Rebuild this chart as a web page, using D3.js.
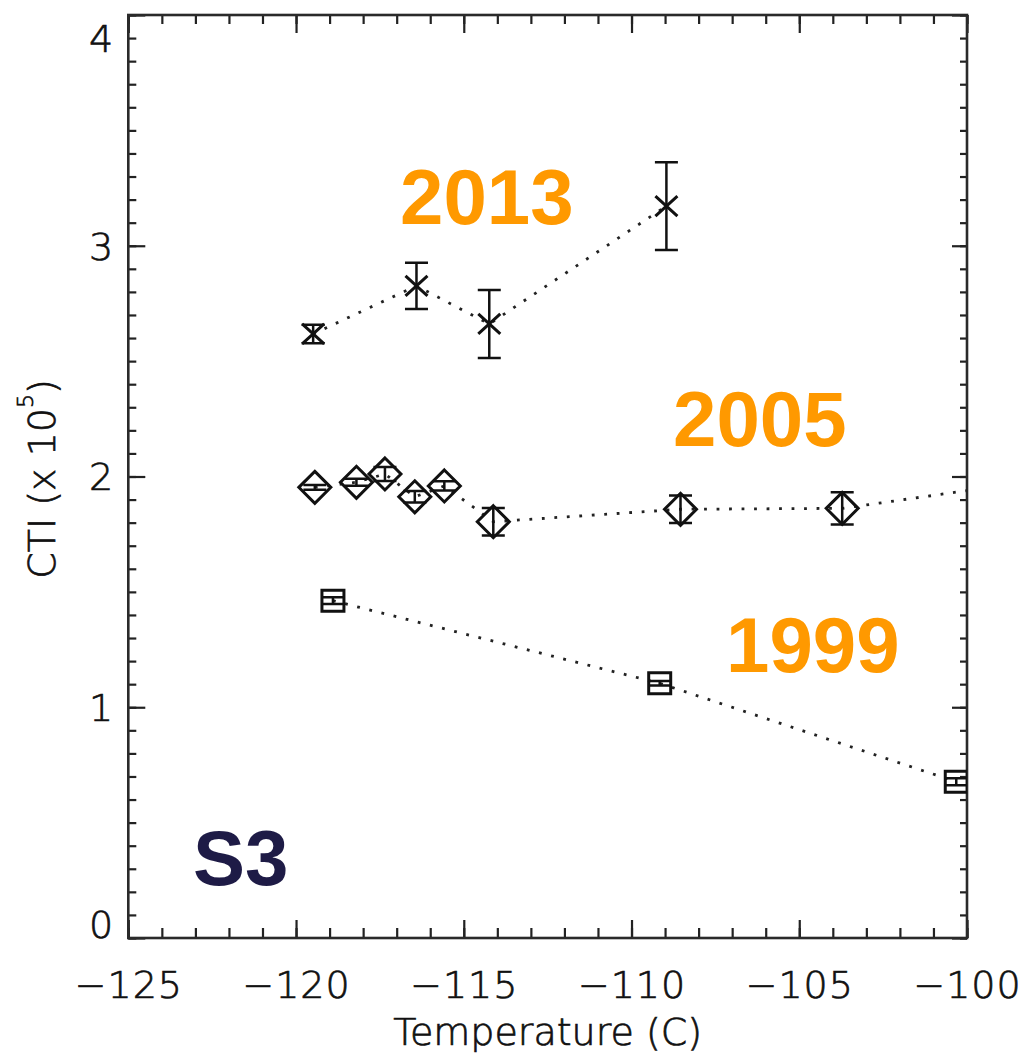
<!DOCTYPE html>
<html>
<head>
<meta charset="utf-8">
<script src="https://cdn.jsdelivr.net/npm/d3@7"></script>
<style>
  html, body { margin: 0; padding: 0; background: #fff; }
  svg { display: block; }
  .tick text, .axis-title { font-family: "DejaVu Sans", sans-serif; font-weight: 300; font-size: 38px; fill: #111; stroke: #111; stroke-width: 0.7px; }
  .year { font-family: "Liberation Sans", Arial, sans-serif; font-weight: bold; font-size: 78px; fill: #ff9900; }
  .panel { font-family: "Liberation Sans", Arial, sans-serif; font-weight: bold; font-size: 78px; fill: #1e1b46; }
</style>
</head>
<body>
<script>
// Axis ticks
const xMajorTicks = [-125, -120, -115, -110, -105, -100];
const yMajorTicks = [0, 1, 2, 3, 4];

// 2013 campaign: temperature (C), CTI (x 10^5) and 1-sigma error
const temp2013 = [-119.49, -116.41, -114.24, -108.96];
const cti2013  = [2.618, 2.826, 2.661, 3.172];
const err2013  = [0.04, 0.10, 0.147, 0.19];

// 2005 campaign
const temp2005 = [-119.44, -118.20, -117.35, -116.46, -115.58, -114.12, -108.54, -103.72, -98.0];
const cti2005  = [1.953, 1.975, 2.011, 1.912, 1.959, 1.804, 1.858, 1.862, 1.98];
const err2005  = [0.01, 0.015, 0.03, 0.025, 0.02, 0.06, 0.06, 0.07, 0.03];

// 1999 campaign
const temp1999 = [-118.90, -109.16, -100.32];
const cti1999  = [1.462, 1.104, 0.677];
const err1999  = [0.015, 0.01, 0.015];

// Text labels
const yearLabels = ["2013", "2005", "1999"];
const panelLabel = "S3";

const W = 1026, H = 1056;
const mLeft = 128.3, mRight = 967, mTop = 15, mBottom = 938;

const svg = d3.select("body").append("svg").attr("width", W).attr("height", H);

const x = d3.scaleLinear().domain([-125, -100]).range([mLeft, mRight]);
const y = d3.scaleLinear().domain([0, 4]).range([mBottom, mTop]);

const xMinor = d3.range(-125, -99.5, 1);
const yMinor = d3.range(0, 4.001, 0.1).map(v => +v.toFixed(1));

function styleAxis(g) {
  g.select(".domain").remove();
  g.selectAll(".tick line").attr("stroke", "#222").attr("stroke-width", 2.2);
}

// Bottom axis with labels
svg.append("g").attr("transform", `translate(0,${mBottom})`)
  .call(d3.axisBottom(x).tickValues(xMajorTicks).tickSizeInner(-18).tickSizeOuter(0)
    .tickPadding(33).tickFormat(d => d3.format("d")(d).replace("-", "\u2212")))
  .call(styleAxis)
  .selectAll(".tick text").attr("fill", "#111").attr("letter-spacing", "1px");
svg.append("g").attr("transform", `translate(0,${mBottom})`)
  .call(d3.axisBottom(x).tickValues(xMinor).tickSizeInner(-10).tickSizeOuter(0).tickFormat(""))
  .call(styleAxis);

// Top axis
svg.append("g").attr("transform", `translate(0,${mTop})`)
  .call(d3.axisTop(x).tickValues(xMajorTicks).tickSizeInner(-18).tickSizeOuter(0).tickFormat(""))
  .call(styleAxis);
svg.append("g").attr("transform", `translate(0,${mTop})`)
  .call(d3.axisTop(x).tickValues(xMinor).tickSizeInner(-9).tickSizeOuter(0).tickFormat(""))
  .call(styleAxis);

// Left axis with labels
const yAxisG = svg.append("g").attr("transform", `translate(${mLeft},0)`)
  .call(d3.axisLeft(y).tickValues(yMajorTicks).tickSizeInner(-17).tickSizeOuter(0)
    .tickPadding(15).tickFormat(d3.format("d")))
  .call(styleAxis);
yAxisG.selectAll(".tick text").attr("fill", "#111")
  .attr("dy", d => d === 4 ? "0.95em" : d === 0 ? "-0.02em" : "0.35em");
svg.append("g").attr("transform", `translate(${mLeft},0)`)
  .call(d3.axisLeft(y).tickValues(yMinor).tickSizeInner(-8).tickSizeOuter(0).tickFormat(""))
  .call(styleAxis);

// Right axis
svg.append("g").attr("transform", `translate(${mRight},0)`)
  .call(d3.axisRight(y).tickValues(yMajorTicks).tickSizeInner(-15).tickSizeOuter(0).tickFormat(""))
  .call(styleAxis);
svg.append("g").attr("transform", `translate(${mRight},0)`)
  .call(d3.axisRight(y).tickValues(yMinor).tickSizeInner(-7).tickSizeOuter(0).tickFormat(""))
  .call(styleAxis);

// Plot frame
svg.append("rect")
  .attr("x", mLeft).attr("y", mTop).attr("width", mRight - mLeft).attr("height", mBottom - mTop)
  .attr("fill", "none").attr("stroke", "#2a2a2a").attr("stroke-width", 2.6);

// Axis titles
svg.append("text").attr("class", "axis-title")
  .attr("x", (mLeft + mRight) / 2).attr("y", 1045).attr("text-anchor", "middle")
  .text("Temperature (C)");

const yt = svg.append("text").attr("class", "axis-title")
  .attr("transform", "translate(55,479) rotate(-90)").attr("text-anchor", "middle");
yt.append("tspan").text("CTI (x 10");
yt.append("tspan").attr("font-size", "22px").attr("dy", -22).text("5");
yt.append("tspan").attr("dy", 22).text(")");

// Data layer, clipped to the plot area
svg.append("clipPath").attr("id", "plot-clip")
  .append("rect").attr("x", mLeft).attr("y", mTop).attr("width", mRight - mLeft).attr("height", mBottom - mTop);
const plot = svg.append("g").attr("clip-path", "url(#plot-clip)");

const series = [
  { t: temp2013, v: cti2013, e: err2013, marker: "cross" },
  { t: temp2005, v: cti2005, e: err2005, marker: "diamond" },
  { t: temp1999, v: cti1999, e: err1999, marker: "square" }
];

const line = d3.line().x(d => x(d.t)).y(d => y(d.v));
const capHalf = 11.5;

series.forEach(s => {
  const pts = s.t.map((t, i) => ({ t, v: s.v[i], e: s.e[i] }));

  plot.append("path").datum(pts).attr("d", line)
    .attr("fill", "none").attr("stroke", "#222").attr("stroke-width", 2.8)
    .attr("stroke-dasharray", "2.8,9.7");

  const g = plot.append("g").selectAll("g").data(pts).join("g")
    .attr("transform", d => `translate(${x(d.t)},${y(d.v)})`);

  // Error bars
  g.append("path")
    .attr("d", d => {
      const up = y(d.v + d.e) - y(d.v), dn = y(d.v - d.e) - y(d.v);
      return `M0,${up}V${dn}M${-capHalf},${up}H${capHalf}M${-capHalf},${dn}H${capHalf}`;
    })
    .attr("fill", "none").attr("stroke", "#111").attr("stroke-width", 2.5);

  // Markers
  const markerPath = {
    cross: "M-11,-10L11,10M-11,10L11,-10",
    diamond: "M0,-16L16,0L0,16L-16,0Z",
    square: "M-11,-10.5H11V10.5H-11Z"
  }[s.marker];
  g.append("path").attr("d", markerPath)
    .attr("fill", "none").attr("stroke", "#111").attr("stroke-width", 3)
    .attr("stroke-linejoin", "miter");
});

// Year annotations
const yearPos = [[400, 224], [673, 446], [726, 672]];
svg.selectAll("text.year").data(yearLabels).join("text").attr("class", "year")
  .attr("x", (d, i) => yearPos[i][0]).attr("y", (d, i) => yearPos[i][1])
  .text(d => d);

svg.append("text").attr("class", "panel").attr("x", 193).attr("y", 885).text(panelLabel);
</script>
</body>
</html>
